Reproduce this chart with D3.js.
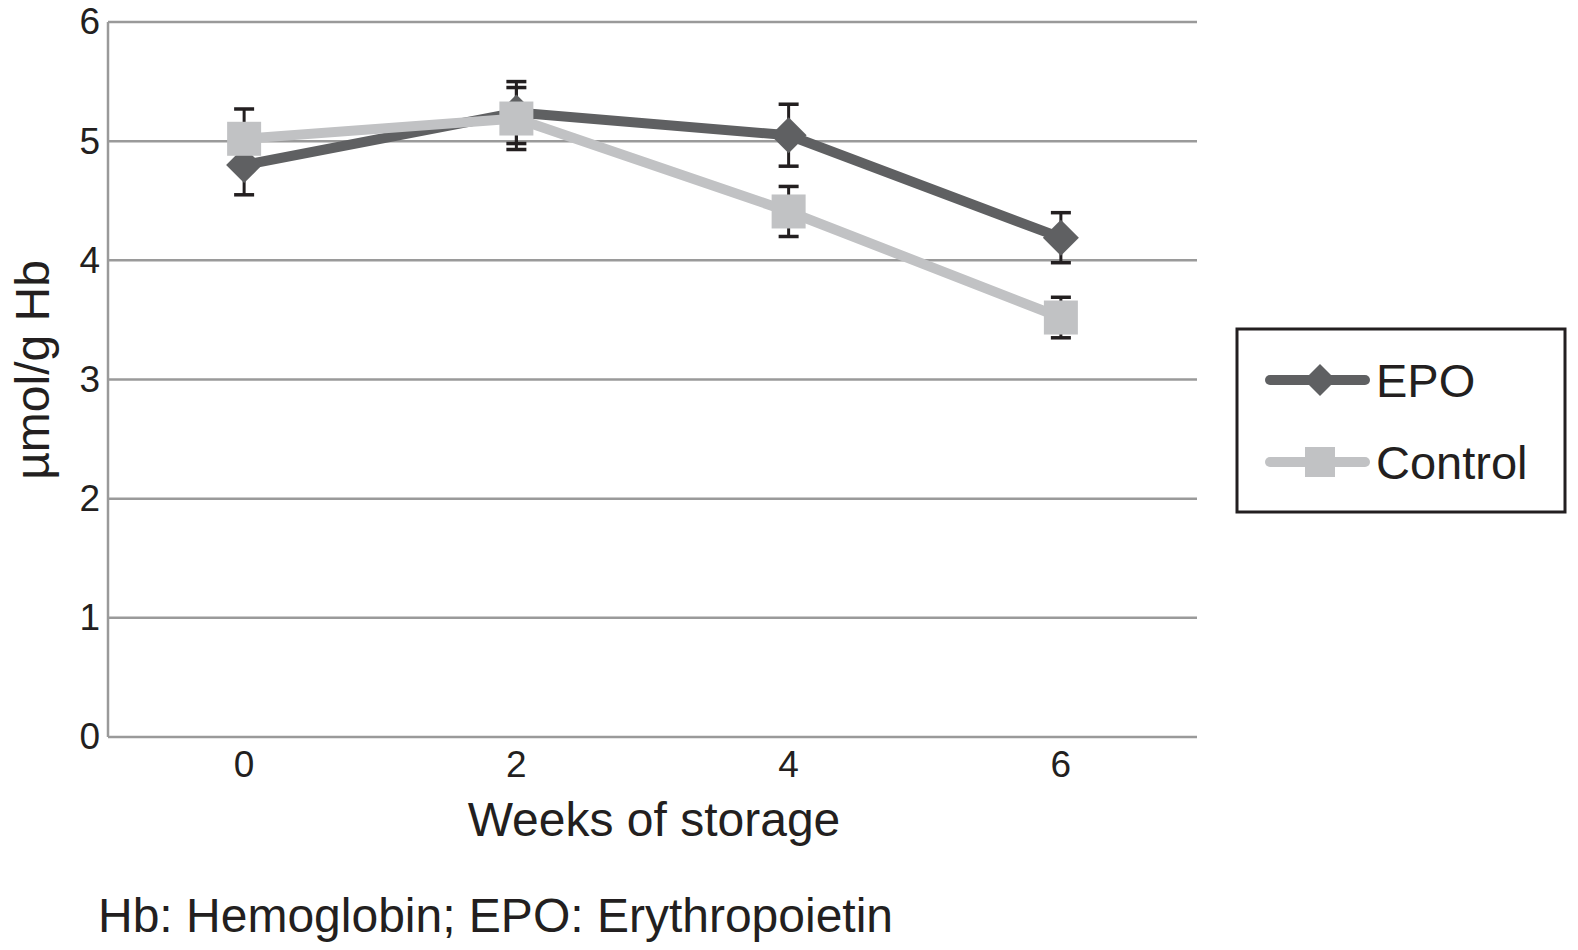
<!DOCTYPE html>
<html><head><meta charset="utf-8">
<script src="https://cdn.jsdelivr.net/npm/d3@7"></script>
<style>body{margin:0;background:#fff}svg{display:block}text{font-family:"Liberation Sans",Arial,Helvetica,sans-serif;fill:#231f20}</style>
</head><body>
<svg id="c" width="1578" height="950"></svg>
<script>
const weeks = ["0","2","4","6"];
const epoValues = [4.80, 5.24, 5.05, 4.19];
const epoErrors = [0.25, 0.26, 0.26, 0.21];
const controlValues = [5.02, 5.19, 4.41, 3.52];
const controlErrors = [0.25, 0.26, 0.21, 0.17];
const yTicks = [0,1,2,3,4,5,6];
const seriesNames = ["EPO","Control"];

const svg = d3.select("#c");
const L=108, R=1197, T=22, B=737;
const x = d3.scaleBand().domain(weeks).range([L,R]);
const y = d3.scaleLinear().domain([0,6]).range([B,T]);
const cx = d => x(d)+x.bandwidth()/2;

// gridlines
svg.append("g").selectAll("line").data(yTicks).join("line")
  .attr("x1",L).attr("x2",R).attr("y1",d=>y(d)).attr("y2",d=>y(d))
  .attr("stroke","#9a9a9a").attr("stroke-width",2.5);
// left axis line
svg.append("line").attr("x1",L).attr("x2",L).attr("y1",T).attr("y2",B)
  .attr("stroke","#9a9a9a").attr("stroke-width",2.5);

// y tick labels
const yAxis = svg.append("g").attr("transform",`translate(${L},0)`)
  .call(d3.axisLeft(y).tickValues(yTicks).tickFormat(d3.format("d")).tickSize(0).tickPadding(8));
yAxis.select(".domain").remove();
yAxis.selectAll("text").style("font-size","37px").attr("fill","#231f20");

// x tick labels
const xAxis = svg.append("g").attr("transform",`translate(0,${B})`)
  .call(d3.axisBottom(x).tickSize(0).tickPadding(14));
xAxis.select(".domain").remove();
xAxis.selectAll("text").style("font-size","37px").attr("fill","#231f20");

// axis titles
svg.append("text").attr("x",654).attr("y",836).attr("text-anchor","middle")
  .style("font-size","48px").text("Weeks of storage");
svg.append("text").attr("transform","translate(49,370) rotate(-90)").attr("text-anchor","middle")
  .style("font-size","48px").text("µmol/g Hb");
svg.append("text").attr("x",98).attr("y",932).style("font-size","48px")
  .text("Hb: Hemoglobin; EPO: Erythropoietin");

const series = [
  {name:seriesNames[0], vals:epoValues, errs:epoErrors, color:"#5f6062", shape:"diamond"},
  {name:seriesNames[1], vals:controlValues, errs:controlErrors, color:"#c1c2c4", shape:"square"}
];

function marker(g, shape, color){
  if(shape==="diamond"){
    g.append("path").attr("d","M0,-18L18,0L0,18L-18,0Z").attr("fill",color);
  } else {
    g.append("rect").attr("x",-17).attr("y",-17).attr("width",34).attr("height",34).attr("fill",color);
  }
}

// error bars first (behind markers)
series.forEach(s=>{
  const g = svg.append("g");
  weeks.forEach((w,i)=>{
    const X=cx(w), y1=y(s.vals[i]+s.errs[i]), y0=y(s.vals[i]-s.errs[i]);
    g.append("line").attr("x1",X).attr("x2",X).attr("y1",y1).attr("y2",y0).attr("stroke","#231f20").attr("stroke-width",3);
    [y1,y0].forEach(yy=>g.append("line").attr("x1",X-10).attr("x2",X+10).attr("y1",yy).attr("y2",yy).attr("stroke","#231f20").attr("stroke-width",3.5));
  });
});

const line = d3.line().x((d,i)=>cx(weeks[i])).y(d=>y(d));
[series[0], series[1]].forEach(s=>{
  svg.append("path").datum(s.vals).attr("d",line).attr("fill","none")
    .attr("stroke",s.color).attr("stroke-width",10).attr("stroke-linejoin","round");
  s.vals.forEach((v,i)=>{
    const g = svg.append("g").attr("transform",`translate(${cx(weeks[i])},${y(v)})`);
    marker(g,s.shape,s.color);
  });
});

// legend
const lg = svg.append("g");
lg.append("rect").attr("x",1237).attr("y",329).attr("width",328).attr("height",183)
  .attr("fill","#fff").attr("stroke","#231f20").attr("stroke-width",3);
series.forEach((s,i)=>{
  const yy = 380 + i*82;
  lg.append("line").attr("x1",1270).attr("x2",1365).attr("y1",yy).attr("y2",yy)
    .attr("stroke",s.color).attr("stroke-width",10).attr("stroke-linecap","round");
  const m = lg.append("g").attr("transform",`translate(1320,${yy})`);
  if(s.shape==="diamond") m.append("path").attr("d","M0,-16L16,0L0,16L-16,0Z").attr("fill",s.color);
  else m.append("rect").attr("x",-15).attr("y",-15).attr("width",30).attr("height",30).attr("fill",s.color);
  lg.append("text").attr("x",1376).attr("y",yy+17).style("font-size","47px").text(s.name);
});
</script>
</body></html>
